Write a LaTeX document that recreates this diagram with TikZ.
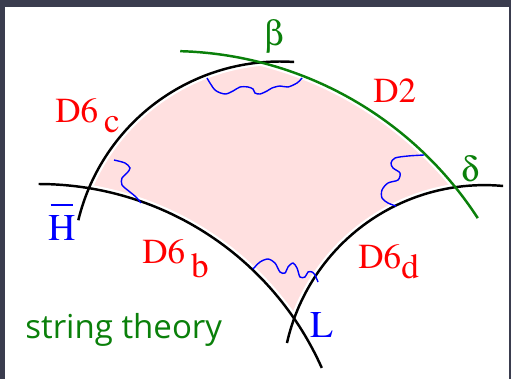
\documentclass[tikz,border=0pt]{standalone}
\usepackage[Symbol]{upgreek}
\usepackage{fontspec}
\newfontfamily\branefont{texgyretermes-regular.otf}
\newfontfamily\handfont{Open Sans}
\definecolor{slidebg}{HTML}{3A3C4E}
\definecolor{branegreen}{HTML}{0A800A}
\definecolor{wedgepink}{HTML}{FFE0E0}

\begin{document}
\begin{tikzpicture}[
    x=0.02cm, y=-0.02cm,
    brane/.style={line width=1.4pt, samples=60},
    gap/.style={white, line width=4pt, samples=60},
    wiggle/.style={blue, line width=0.8pt},
    dlabel/.style={text=red, font=\branefont\fontsize{20}{24}\selectfont, inner sep=0pt, anchor=base west},
    glabel/.style={text=branegreen, font=\fontsize{20}{24}\selectfont, inner sep=0pt},
    plabel/.style={text=blue, font=\branefont\fontsize{21.5}{26}\selectfont, inner sep=0pt, anchor=base west}
]

% Slide
\fill[slidebg] (0,0) rectangle (511,379);
\fill[white] (5,7) rectangle (509,379);

% Wedge between the branes
\fill[wedgepink]
    plot[samples=40, domain=202.5:265] ({280+207.5*cos(\x)},{269+207.5*sin(\x)})
 -- plot[samples=40, domain=-75.4:-38.5] ({170+367*cos(\x)},{418+367*sin(\x)})
 -- plot[samples=40, domain=262.4:199.3] ({484.4+202.4*cos(\x)},{387.5+202.4*sin(\x)})
 -- plot[samples=40, domain=-34:-80.6] ({38.6+310*cos(\x)},{494+310*sin(\x)})
 -- cycle;

% White margins along the branes
\draw[gap] plot[domain=193.6:273.9] ({280+207.5*cos(\x)},{269+207.5*sin(\x)});
\draw[gap] plot[domain=-90:-24] ({38.6+310*cos(\x)},{494+310*sin(\x)});
\draw[gap] plot[domain=192.7:275.3] ({484.4+202.4*cos(\x)},{387.5+202.4*sin(\x)});
\draw[gap] plot[domain=-88.4:-33] ({170+367*cos(\x)},{418+367*sin(\x)});

% Branes
\draw[brane] plot[domain=193.6:273.9] ({280+207.5*cos(\x)},{269+207.5*sin(\x)});
\draw[brane] plot[domain=-90:-24] ({38.6+310*cos(\x)},{494+310*sin(\x)});
\draw[brane] plot[domain=192.7:275.3] ({484.4+202.4*cos(\x)},{387.5+202.4*sin(\x)});
\draw[brane, branegreen] plot[domain=-88.4:-33] ({170+367*cos(\x)},{418+367*sin(\x)});

% Open strings
\draw[wiggle] plot[smooth] coordinates {(207,78) (215,90) (225,94) (233,91) (240,87)
    (248,87) (253,89) (255,93) (260,94) (267,91) (272,88) (280,86) (288,87) (297,83) (302,78)};
\draw[wiggle] plot[smooth] coordinates {(114,160) (125,163) (130,168) (127,173)
    (122,178) (122,185) (130,192) (136,197) (141,203)};
\draw[wiggle] plot[smooth] coordinates {(424,155) (408,156) (395,158) (391,163) (393,168)
    (400,173) (398,180) (388,183) (382,190) (382,198) (388,203) (396,206)};
\draw[wiggle] plot[smooth] coordinates {(253,269) (260,262) (268,259) (275,263) (280,272)
    (285,273) (288,267) (293,263) (297,268) (300,277) (305,277) (308,272) (312,272)
    (315,275) (318,282)};

% Labels
\node[dlabel] (d6c) at (55,122) {D6\,\raisebox{-0.3em}{c}};
\node[dlabel] (d6b) at (142,263) {D6\,\raisebox{-0.42em}{b}};
\node[dlabel] (d6d) at (358,268) {D6\raisebox{-0.3em}{d}};
\node[dlabel] (d2) at (373,102) {D2};
\node[glabel] (beta) at (274,37) {$\upbeta$};
\node[glabel] (delta) at (470,169) {$\updelta$};
\node[plabel] (hbar) at (48,240) {\rlap{\hspace{0.06em}\rule[0.9em]{0.58em}{0.05em}}H};
\node[plabel] (lep) at (310,337) {L};
\node[text=branegreen, font=\handfont\fontsize{18.8}{22}\selectfont, inner sep=0pt,
      anchor=base west] (title) at (25,338) {string theory};

\end{tikzpicture}
\end{document}
